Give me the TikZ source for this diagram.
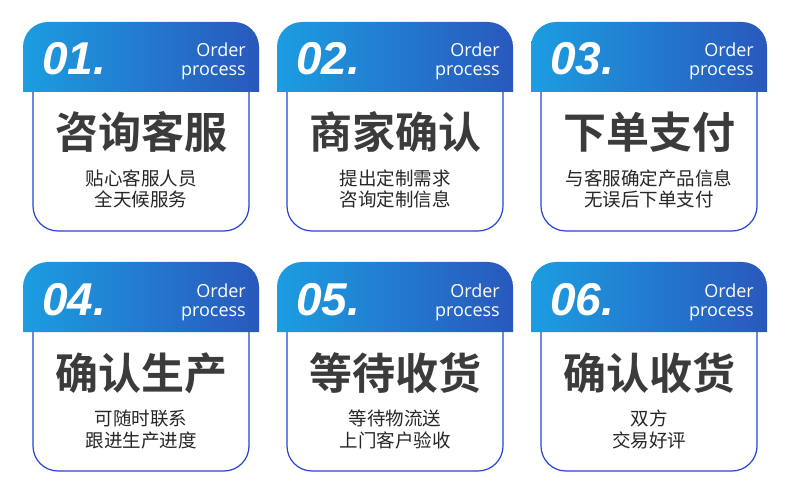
\documentclass[tikz,border=0pt]{standalone}
\usepackage{fontspec}
\newfontfamily\cjk{Noto Sans CJK SC}
\newfontfamily\cjkb{Noto Sans CJK SC Bold}
\newfontfamily\numfont{Liberation Sans}
\newfontfamily\ordfont{Open Sans}
\definecolor{hdleft}{HTML}{1C9DE1}
\definecolor{hdright}{HTML}{2958BC}
\definecolor{bord}{HTML}{2246D2}
\definecolor{titlecol}{HTML}{3B3B3B}
\definecolor{subcol}{HTML}{262626}
\tikzset{
  numtxt/.style={anchor=base west,inner sep=0pt,text=white,font=\numfont\bfseries\itshape\fontsize{46}{46}\selectfont},
  ordtxt/.style={anchor=base east,inner sep=0pt,text=white,font=\ordfont\fontsize{18}{18}\selectfont},
  titletxt/.style={anchor=base,inner sep=0pt,text=titlecol,font=\cjkb\fontsize{43}{43}\selectfont},
  subtxt/.style={anchor=base,inner sep=0pt,text=subcol,font=\cjk\fontsize{18.5}{18.5}\selectfont},
  bodyline/.style={draw=bord,line width=1.2pt,fill=white}
}
\newcommand{\mycard}[7]{%
  % #1 id, #2 X, #3 Y, #4 number, #5 title, #6 line1, #7 line2
  \begin{scope}[shift={(#2,#3)}]
    \path[bodyline] (10,70) -- (10,184) arc(180:90:25) -- (201,209) arc(90:0:25) -- (226,70);
    \shade[left color=hdleft,right color=hdright] (0,70) -- (0,25) arc(180:270:25) -- (211,0) arc(270:360:25) -- (236,70) -- cycle;
    \node[numtxt] (num#1) at (19,53) {#4};
    \node[ordtxt] (ord#1) at (223,35) {Order};
    \node[ordtxt] (pro#1) at (223,54) {process};
    \node[titletxt] (tit#1) at (118,127) {#5};
    \node[subtxt] (sa#1) at (118,163.5) {#6};
    \node[subtxt] (sb#1) at (118,185) {#7};
  \end{scope}}
\begin{document}
\begin{tikzpicture}[x=1pt,y=-1pt]
\useasboundingbox[fill=white] (0,0) rectangle (790,489);
\mycard{a}{23}{22}{01.}{咨询客服}{贴心客服人员}{全天候服务}
\mycard{b}{277}{22}{02.}{商家确认}{提出定制需求}{咨询定制信息}
\mycard{c}{531}{22}{03.}{下单支付}{与客服确定产品信息}{无误后下单支付}
\mycard{d}{23}{262}{04.}{确认生产}{可随时联系}{跟进生产进度}
\mycard{e}{277}{262}{05.}{等待收货}{等待物流送}{上门客户验收}
\mycard{f}{531}{262}{06.}{确认收货}{双方}{交易好评}
\end{tikzpicture}
\end{document}
